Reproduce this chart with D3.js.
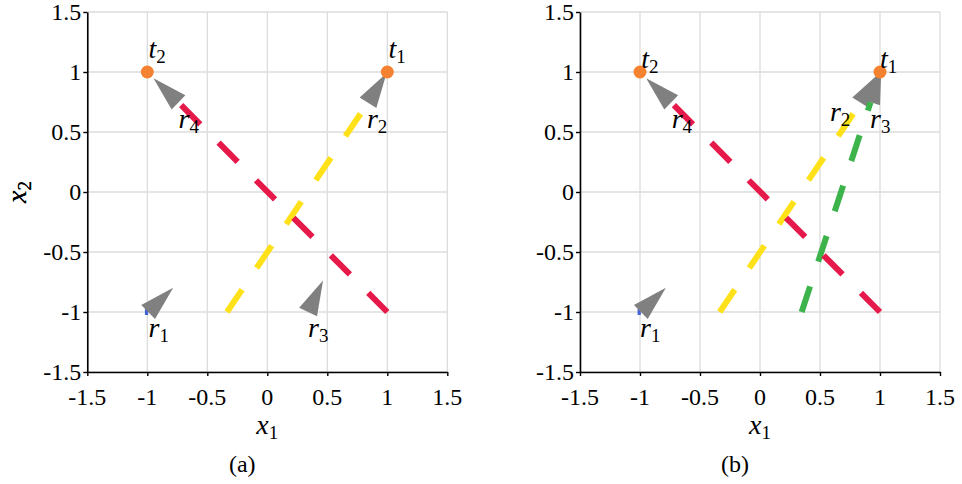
<!DOCTYPE html>
<html>
<head>
  <meta charset="utf-8">
  <script src="https://cdn.jsdelivr.net/npm/d3@7/dist/d3.min.js"></script>
</head>
<body style="margin:0">
<svg id="chart" width="962" height="484"></svg>
<script>
// ---- data ----
var ticks = [-1.5, -1, -0.5, 0, 0.5, 1, 1.5];
var tickLabels = ["-1.5", "-1", "-0.5", "0", "0.5", "1", "1.5"];

var targets = [
  {name: "1", x: 1, y: 1},
  {name: "2", x: -1, y: 1}
];

// robot paths (start -> current position) and heading in degrees
var robotsA = [
  {id: 1, path: [[-1.02, -1.0], [-0.993, -1.0]], heading: 44},
  {id: 2, path: [[-0.336, -1.0], [0.839, 0.744]], heading: 57.8},
  {id: 3, path: [[0.34, -1.0], [0.34, -1.0]], heading: 64.6},
  {id: 4, path: [[1.0, -1.0], [-0.74, 0.746]], heading: 136}
];
var robotsB = [
  {id: 1, path: [[-1.02, -1.0], [-0.993, -1.0]], heading: 44},
  {id: 2, path: [[-0.336, -1.0], [0.839, 0.744]], heading: 57.8},
  {id: 3, path: [[0.347, -1.0], [0.9215, 0.7485]], heading: 72},
  {id: 4, path: [[1.0, -1.0], [-0.74, 0.746]], heading: 136}
];

var labelsA = [
  {base: "t", sub: "2", x: -0.99, y: 1.12},
  {base: "t", sub: "1", x: 1.01, y: 1.12},
  {base: "r", sub: "4", x: -0.74, y: 0.53},
  {base: "r", sub: "2", x: 0.83, y: 0.53},
  {base: "r", sub: "1", x: -0.99, y: -1.21},
  {base: "r", sub: "3", x: 0.34, y: -1.21}
];
var labelsB = [
  {base: "t", sub: "2", x: -0.99, y: 1.03},
  {base: "t", sub: "1", x: 1.0, y: 1.03},
  {base: "r", sub: "4", x: -0.736, y: 0.53},
  {base: "r", sub: "2", x: 0.583, y: 0.59},
  {base: "r", sub: "3", x: 0.917, y: 0.53},
  {base: "r", sub: "1", x: -1.0, y: -1.21}
];

var robotColor = {1: "#4363d8", 2: "#ffe119", 3: "#3cb44b", 4: "#e6194b"};
var arrowLen = 0.29, arrowHalf = 0.0825;

var svg = d3.select("#chart");
var marks = svg.append("g");
var texts = svg.append("g");

function mathText(sel, base, sub) {
  sel.attr("font-family", "Liberation Serif").attr("font-size", 28).attr("font-style", "italic");
  sel.append("tspan").text(base);
  sel.append("tspan").attr("dy", 5).attr("font-style", "normal").attr("font-size", 19).text(sub);
  return sel;
}

function drawPanel(left, caption, robots, labels) {
  var size = 360, top = 12;
  var x = d3.scaleLinear().domain([-1.5, 1.5]).range([left, left + size]);
  var y = d3.scaleLinear().domain([-1.5, 1.5]).range([top + size, top]);

  // grid
  marks.append("g").selectAll("line").data(ticks).enter().append("line")
    .attr("x1", function(d) { return x(d); }).attr("x2", function(d) { return x(d); })
    .attr("y1", top).attr("y2", top + size)
    .style("stroke", "#dcdcdc").style("stroke-width", 1.3);
  marks.append("g").selectAll("line").data(ticks).enter().append("line")
    .attr("y1", function(d) { return y(d); }).attr("y2", function(d) { return y(d); })
    .attr("x1", left).attr("x2", left + size)
    .style("stroke", "#dcdcdc").style("stroke-width", 1.3);

  // axes (lines and ticks only; labels drawn as plain text below)
  var xa = marks.append("g").attr("transform", "translate(0," + (top + size) + ")")
    .call(d3.axisBottom(x).tickValues(ticks).tickFormat("").tickSize(4).tickSizeOuter(0));
  var ya = marks.append("g").attr("transform", "translate(" + left + ",0)")
    .call(d3.axisLeft(y).tickValues(ticks).tickFormat("").tickSize(4).tickSizeOuter(0));
  [xa, ya].forEach(function(a) {
    a.selectAll("text").remove();
    a.select(".domain").style("stroke", "#000").style("stroke-width", 1.6);
    a.selectAll(".tick line").style("stroke", "#000").style("stroke-width", 1.4);
  });

  texts.append("g").selectAll("text").data(ticks).enter().append("text")
    .attr("font-family", "Liberation Serif").attr("font-size", 24)
    .attr("text-anchor", "middle")
    .attr("x", function(d) { return x(d); }).attr("y", top + size + 33)
    .text(function(d, i) { return tickLabels[i]; });
  texts.append("g").selectAll("text").data(ticks).enter().append("text")
    .attr("font-family", "Liberation Serif").attr("font-size", 24)
    .attr("text-anchor", "end")
    .attr("x", left - 6).attr("y", function(d) { return y(d) + 8; })
    .text(function(d, i) { return tickLabels[i]; });

  var line = d3.line().x(function(d) { return x(d[0]); }).y(function(d) { return y(d[1]); });

  robots.forEach(function(r) {
    marks.append("path").attr("d", line(r.path))
      .style("fill", "none").style("stroke", robotColor[r.id])
      .style("stroke-width", 6).style("stroke-dasharray", "27,26");
    var p = r.path[r.path.length - 1];
    var a = r.heading * Math.PI / 180;
    var ux = Math.cos(a), uy = Math.sin(a);
    var tri = [
      [p[0] + arrowLen * ux, p[1] + arrowLen * uy],
      [p[0] - arrowHalf * uy, p[1] + arrowHalf * ux],
      [p[0] + arrowHalf * uy, p[1] - arrowHalf * ux]
    ];
    marks.append("polygon")
      .attr("points", tri.map(function(q) { return x(q[0]) + "," + y(q[1]); }).join(" "))
      .style("fill", "#808080");
  });

  marks.append("g").selectAll("circle").data(targets).enter().append("circle")
    .attr("cx", function(d) { return x(d.x); }).attr("cy", function(d) { return y(d.y); })
    .attr("r", 6.5).style("fill", "#f58231");

  labels.forEach(function(l) {
    mathText(texts.append("text").attr("x", x(l.x)).attr("y", y(l.y)), l.base, l.sub);
  });

  // axis titles
  mathText(texts.append("text").attr("text-anchor", "middle")
    .attr("x", x(0)).attr("y", top + size + 62), "x", "1");
  mathText(texts.append("text").attr("text-anchor", "middle")
    .attr("transform", "translate(26," + y(0) + ") rotate(-90)"), "x", "2");

  texts.append("text").attr("text-anchor", "middle")
    .attr("font-family", "Liberation Serif").attr("font-size", 24)
    .attr("x", x(0) - 25).attr("y", 472).text(caption);
}

drawPanel(87.3, "(a)", robotsA, labelsA);
drawPanel(580, "(b)", robotsB, labelsB);
</script>
</body>
</html>
